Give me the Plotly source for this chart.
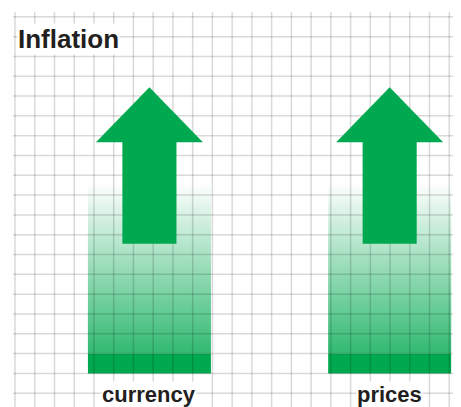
import plotly.graph_objects as go

# ---- data ----
title_text = "Inflation"
categories = ["currency", "prices"]
bar_values = [9.55, 9.55]        # height of the gradient columns (grid units)
arrow_from = [6.55, 6.55]        # arrow shaft start (grid units)
arrow_to = [14.45, 14.45]        # arrow tip (grid units)

# ---- layout / style constants ----
W, H = 453, 399                  # page body adds an 8px offset
GREEN = (0, 169, 79)
TEXT = "#231f20"
FONT = "Liberation Sans, Arial, sans-serif"
CAT_X = [6.81, 18.98]            # category centres on the grid axis
BAR_W = 6.23
HEAD_LEN, HEAD_HW, SHAFT_HW = 2.78, 2.71, 1.37
X_RANGE = [-0.3546, 22.594]
Y_RANGE = [-1.696, 18.445]
N_SEG = 60


def blend(a):
    return "rgb(%d,%d,%d)" % tuple(round(255 * (1 - a) + c * a) for c in GREEN)


fig = go.Figure()

# gradient columns as stacked bar segments (opaque, slightly overlapping)
for cx, top in zip(CAT_X, bar_values):
    xs, bases, hs, cols = [], [], [], []
    step = (top - 1.0) / N_SEG
    for k in reversed(range(N_SEG)):
        b = 1.0 + k * step
        mid = b + step / 2
        a = 0.8 * (1 - (mid - 1.0) / (top - 1.0))
        xs.append(cx); bases.append(b); hs.append(step * 1.6)
        cols.append(blend(a))
    xs.append(cx); bases.append(0); hs.append(1.0)
    cols.append(blend(1.0))
    fig.add_trace(go.Bar(x=xs, y=hs, base=bases, width=BAR_W,
                         marker=dict(color=cols, line=dict(width=0)),
                         hoverinfo="skip", showlegend=False))

# grid drawn over the columns
gx, gy = [], []
for k in range(0, 23):
    gx += [k, k, None]; gy += [18.24, Y_RANGE[0] - 1, None]
for j in range(-1, 19):
    gx += [-0.1, 22.39, None]; gy += [j, j, None]
fig.add_trace(go.Scatter(x=gx, y=gy, mode="lines",
                         line=dict(color="rgba(0,0,0,0.15)", width=1.5),
                         hoverinfo="skip", showlegend=False))

# arrows
for cx, y0, y1 in zip(CAT_X, arrow_from, arrow_to):
    hb = y1 - HEAD_LEN
    px = [cx - SHAFT_HW, cx - SHAFT_HW, cx - HEAD_HW, cx, cx + HEAD_HW,
          cx + SHAFT_HW, cx + SHAFT_HW, cx - SHAFT_HW]
    py = [y0, hb, hb, y1, hb, hb, y0, y0]
    fig.add_trace(go.Scatter(x=px, y=py, mode="lines", fill="toself",
                             fillcolor="rgb(%d,%d,%d)" % GREEN,
                             line=dict(width=0, color="rgb(%d,%d,%d)" % GREEN),
                             hoverinfo="skip", showlegend=False))

# category labels
for cx, name in zip(CAT_X, categories):
    fig.add_annotation(x=cx, y=-1.06, xref="x", yref="y", text=f"<b>{name}</b>",
                       showarrow=False, bgcolor="white", borderpad=0,
                       font=dict(family=FONT, size=22, color=TEXT),
                       xanchor="center", yanchor="middle")

# title
fig.add_annotation(x=9 / W, y=1 - 31 / H, xref="paper", yref="paper",
                   text=f"<b>{title_text}</b>", showarrow=False,
                   bgcolor="white", borderpad=0,
                   font=dict(family=FONT, size=26, color=TEXT),
                   xanchor="left", yanchor="middle")

fig.update_layout(width=W, height=H, margin=dict(l=0, r=0, t=0, b=0),
                  paper_bgcolor="white", plot_bgcolor="white",
                  barmode="overlay", showlegend=False,
                  xaxis=dict(range=X_RANGE, visible=False, fixedrange=True),
                  yaxis=dict(range=Y_RANGE, visible=False, fixedrange=True))

fig.write_html("out.html")
